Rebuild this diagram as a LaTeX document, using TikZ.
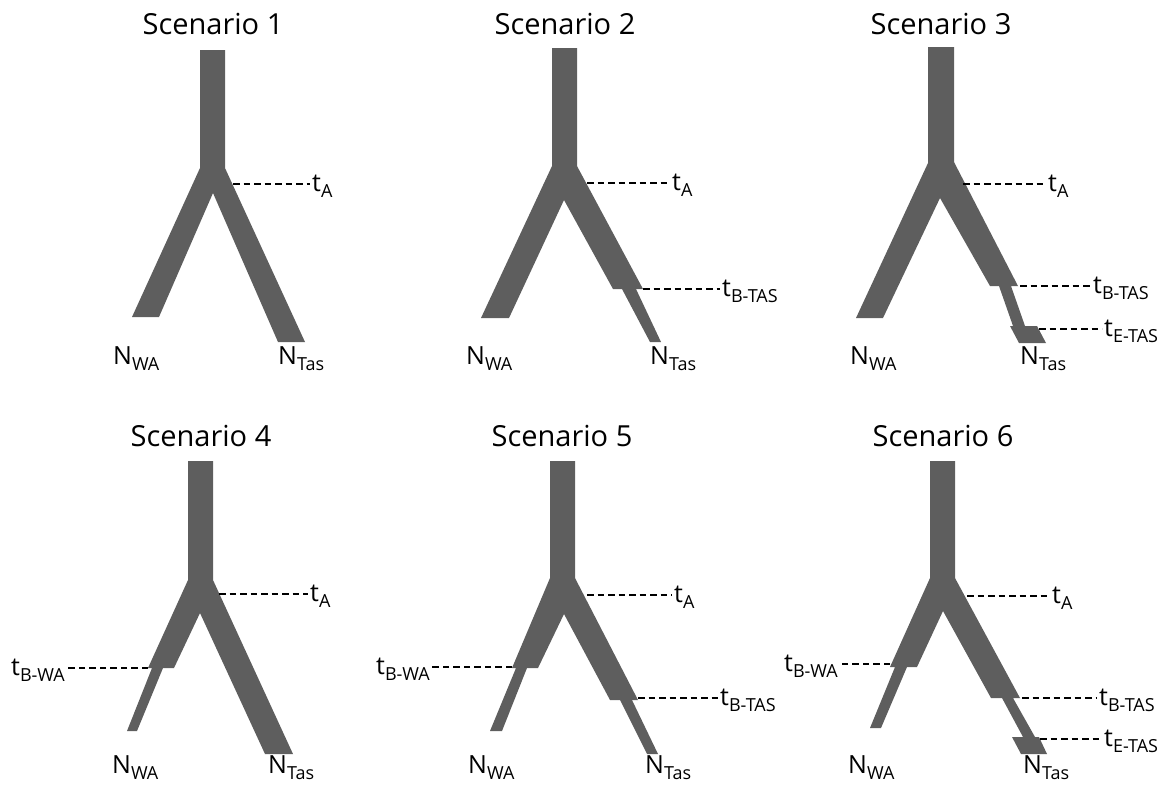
\documentclass[tikz,border=0pt]{standalone}
\usepackage{fontspec}
\setmainfont{Open Sans}
\definecolor{branch}{HTML}{5E5E5E}
% subscript lowered below the baseline, in a smaller size
\newcommand\lowsub[1]{\raisebox{-6pt}{\fontsize{18}{18}\selectfont #1}}
\tikzset{
  pop/.style={fill=branch, draw=none},
  guide/.style={draw=black, line width=1.2pt, dash pattern=on 6.5pt off 4pt},
  heading/.style={font=\fontsize{29}{29}\selectfont, anchor=base, inner sep=0pt},
  tlab/.style={font=\fontsize{25}{25}\selectfont, anchor=base west, inner ysep=0pt, inner xsep=2pt},
  tlabl/.style={tlab, anchor=base east},
  nlab/.style={font=\fontsize{25}{25}\selectfont, anchor=base west, inner sep=0pt},
}
\begin{document}
\begin{tikzpicture}[x=1pt, y=-1pt]
\useasboundingbox (0,0) rectangle (1168,785);

% ---------- Scenario 1 ----------
\node[heading] (h1) at (213,34) {Scenario 1};
\fill[pop] (200,50) -- (225,50) -- (225,168) -- (305,342) -- (278,342) -- (213,193)
  -- (159,317) -- (132,317) -- (200,168) -- cycle;
\coordinate (s1a) at (233,184);
\node[tlab] (s1tA) at (310,191) {t\lowsub{A}};
\draw[guide] (s1a) -- (s1a -| s1tA.west);
\node[nlab] (s1wa) at (113,364) {N\lowsub{WA}};
\node[nlab] (s1tas) at (278,364) {N\lowsub{Tas}};

% ---------- Scenario 2 ----------
\node[heading] (h2) at (565,34) {Scenario 2};
\fill[pop] (552,48) -- (577,48) -- (577,166) -- (643,289) -- (636,289) -- (661,342)
  -- (650,342) -- (622,289) -- (613,289) -- (564,200) -- (509,318) -- (481,318)
  -- (552,166) -- cycle;
\coordinate (s2a) at (587,183);
\coordinate (s2b) at (643,289);
\node[tlab] (s2tA) at (670,190) {t\lowsub{A}};
\node[tlab] (s2tB) at (720,296) {t\lowsub{B-TAS}};
\draw[guide] (s2a) -- (s2a -| s2tA.west);
\draw[guide] (s2b) -- (s2b -| s2tB.west);
\node[nlab] (s2wa) at (466,364) {N\lowsub{WA}};
\node[nlab] (s2tas) at (650,364) {N\lowsub{Tas}};

% ---------- Scenario 3 ----------
\node[heading] (h3) at (941,34) {Scenario 3};
\fill[pop] (928,47) -- (954,47) -- (954,162) -- (1018,286) -- (1011,286) -- (1025,326)
  -- (1037,326) -- (1046,343) -- (1019,343) -- (1010,326) -- (1013,326) -- (999,286)
  -- (990,286) -- (940,198) -- (883,318) -- (856,318) -- (928,163) -- cycle;
\coordinate (s3a) at (963,184);
\coordinate (s3b) at (1020,286);
\coordinate (s3e) at (1039,329);
\node[tlab] (s3tA) at (1046,191) {t\lowsub{A}};
\node[tlab] (s3tB) at (1091,293) {t\lowsub{B-TAS}};
\node[tlab] (s3tE) at (1102,336) {t\lowsub{E-TAS}};
\draw[guide] (s3a) -- (s3a -| s3tA.west);
\draw[guide] (s3b) -- (s3b -| s3tB.west);
\draw[guide] (s3e) -- (s3e -| s3tE.west);
\node[nlab] (s3wa) at (850,364) {N\lowsub{WA}};
\node[nlab] (s3tas) at (1020,364) {N\lowsub{Tas}};

% ---------- Scenario 4 ----------
\node[heading] (h4) at (201,446) {Scenario 4};
\fill[pop] (188,461) -- (213,461) -- (213,580) -- (293,754) -- (265,754) -- (200,613)
  -- (174,668) -- (163,668) -- (137,731) -- (127,731) -- (152,668) -- (148,668)
  -- (188,580) -- cycle;
\coordinate (s4a) at (219,594);
\coordinate (s4w) at (148,668);
\node[tlab] (s4tA) at (308,601) {t\lowsub{A}};
\node[tlabl] (s4tW) at (67,675) {t\lowsub{B-WA}};
\draw[guide] (s4a) -- (s4a -| s4tA.west);
\draw[guide] (s4w) -- (s4w -| s4tW.east);
\node[nlab] (s4wa) at (112,773) {N\lowsub{WA}};
\node[nlab] (s4tas) at (268,773) {N\lowsub{Tas}};

% ---------- Scenario 5 ----------
\node[heading] (h5) at (562,446) {Scenario 5};
\fill[pop] (550,461) -- (575,461) -- (575,578) -- (638,700) -- (632,700) -- (658,754)
  -- (647,754) -- (620,700) -- (610,700) -- (564,614) -- (538,668) -- (527,668)
  -- (502,731) -- (490,731) -- (516,668) -- (512,668) -- (550,578) -- cycle;
\coordinate (s5a) at (587,595);
\coordinate (s5w) at (512,667);
\coordinate (s5b) at (638,698);
\node[tlab] (s5tA) at (672,602) {t\lowsub{A}};
\node[tlabl] (s5tW) at (432,674) {t\lowsub{B-WA}};
\node[tlab] (s5tB) at (718,705) {t\lowsub{B-TAS}};
\draw[guide] (s5a) -- (s5a -| s5tA.west);
\draw[guide] (s5w) -- (s5w -| s5tW.east);
\draw[guide] (s5b) -- (s5b -| s5tB.west);
\node[nlab] (s5wa) at (468,773) {N\lowsub{WA}};
\node[nlab] (s5tas) at (645,773) {N\lowsub{Tas}};

% ---------- Scenario 6 ----------
\node[heading] (h6) at (943,446) {Scenario 6};
\fill[pop] (930,461) -- (955,461) -- (955,578) -- (1020,698) -- (1013,698) -- (1035,737)
  -- (1039,737) -- (1047,754) -- (1021,754) -- (1012,737) -- (1023,737) -- (1002,698)
  -- (991,698) -- (943,611) -- (917,667) -- (907,667) -- (881,728) -- (870,728)
  -- (895,667) -- (890,667) -- (930,578) -- cycle;
\coordinate (s6a) at (967,596);
\coordinate (s6w) at (890,664);
\coordinate (s6b) at (1022,698);
\coordinate (s6e) at (1040,739);
\node[tlab] (s6tA) at (1050,603) {t\lowsub{A}};
\node[tlabl] (s6tW) at (840,671) {t\lowsub{B-WA}};
\node[tlab] (s6tB) at (1097,705) {t\lowsub{B-TAS}};
\node[tlab] (s6tE) at (1102,746) {t\lowsub{E-TAS}};
\draw[guide] (s6a) -- (s6a -| s6tA.west);
\draw[guide] (s6w) -- (s6w -| s6tW.east);
\draw[guide] (s6b) -- (s6b -| s6tB.west);
\draw[guide] (s6e) -- (s6e -| s6tE.west);
\node[nlab] (s6wa) at (848,773) {N\lowsub{WA}};
\node[nlab] (s6tas) at (1023,773) {N\lowsub{Tas}};
\end{tikzpicture}
\end{document}
